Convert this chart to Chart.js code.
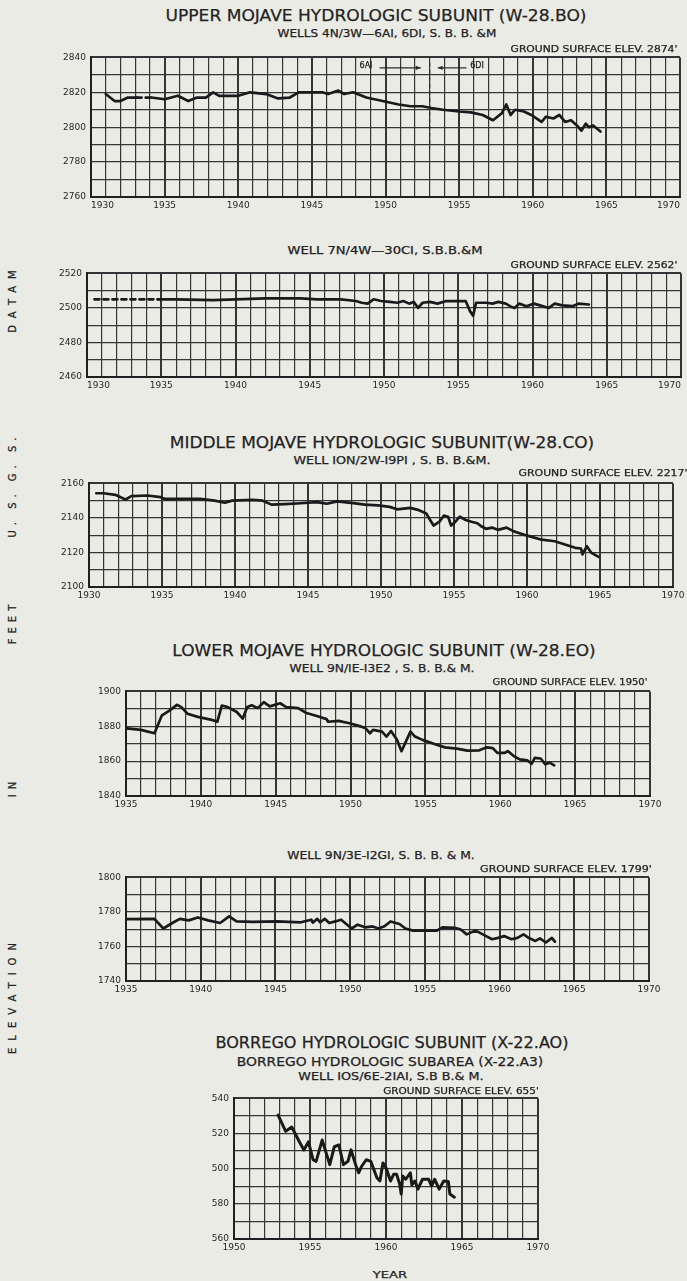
<!DOCTYPE html>
<html>
<head>
<meta charset="utf-8">
<script src="https://cdn.jsdelivr.net/npm/chart.js@4.4.1/dist/chart.umd.min.js"></script>
<style>
  body { margin: 0; width: 687px; height: 1281px; overflow: hidden; position: relative;
         background: #ebebe6; font-family: "DejaVu Sans", sans-serif; color: #232323; }
  canvas { position: absolute; }
  .t { position: absolute; white-space: nowrap; line-height: 1; -webkit-text-stroke: 0.25px #232323; }
</style>
</head>
<body>
<script>
// ---- data (year, water level in feet) ----
const c1Years = [1931.0, 1931.6, 1932.0, 1932.5, 1933.1, 1934.1, 1935.0, 1935.9, 1936.6, 1937.2, 1937.8, 1938.3, 1938.7, 1940.0, 1940.8, 1941.9, 1942.7, 1943.5, 1944.1, 1945.7, 1946.1, 1946.8, 1947.2, 1947.8, 1948.7, 1949.8, 1950.9, 1951.7, 1952.5, 1953.1, 1953.9, 1955.0, 1955.8, 1956.6, 1957.3, 1957.9, 1958.2, 1958.5, 1958.8, 1959.4, 1959.9, 1960.6, 1960.9, 1961.4, 1961.8, 1962.2, 1962.6, 1963.0, 1963.3, 1963.6, 1963.8, 1964.1, 1964.6];
const c1Levels = [2819, 2815, 2815, 2817, 2817, 2817, 2816, 2818, 2815, 2817, 2817, 2820, 2818, 2818, 2820, 2819, 2816.5, 2817, 2820, 2820, 2819, 2821, 2819, 2820, 2817, 2815, 2813, 2812, 2812, 2811, 2810, 2809, 2808.5, 2807, 2804, 2808, 2813, 2807, 2810, 2809, 2807, 2803, 2806, 2805, 2807, 2803, 2804, 2801, 2798, 2802, 2800, 2801, 2797.5];
const c1Dashed = [1933.1, 1934.1];
// well change 6A1 -> 6D1
const c1SplitYear = 1953.0;
const c1SplitLevels = [2837, 2788];
const c1MarkerLevel = 2834;
const c1LeftArrow = [1949.6, 1952.4];
const c1RightArrow = [1953.55, 1955.5];

const c2Years = [1930.5, 1934.8, 1936.0, 1938.5, 1940.0, 1942.0, 1944.4, 1945.5, 1947.1, 1948.1, 1948.5, 1948.9, 1949.3, 1949.8, 1950.4, 1950.9, 1951.3, 1951.7, 1952.0, 1952.3, 1952.6, 1953.1, 1953.6, 1954.2, 1955.0, 1955.5, 1955.8, 1956.0, 1956.2, 1956.9, 1957.3, 1957.7, 1958.2, 1958.6, 1958.8, 1959.1, 1959.6, 1960.1, 1960.5, 1961.1, 1961.5, 1962.0, 1962.7, 1963.1, 1963.8];
const c2Levels = [2505, 2505, 2505, 2504.5, 2505, 2505.5, 2505.5, 2505, 2505, 2504, 2503, 2502.5, 2505, 2504, 2503.5, 2503, 2504, 2502.5, 2503.5, 2500, 2503, 2503.5, 2502.5, 2504, 2504, 2504, 2498, 2495.5, 2503, 2503, 2502.5, 2503.5, 2502.5, 2500.5, 2500, 2502.5, 2501, 2502.5, 2501.5, 2500, 2502.5, 2501.5, 2501, 2502.5, 2502];
const c2Dashed = [1930.5, 1934.8];

const c3Years = [1930.5, 1931.0, 1931.8, 1932.5, 1932.9, 1934.0, 1934.9, 1935.2, 1936.3, 1937.6, 1938.6, 1939.3, 1939.8, 1941.2, 1941.9, 1942.5, 1943.4, 1944.5, 1945.6, 1946.3, 1947.0, 1948.1, 1948.9, 1949.8, 1950.6, 1951.1, 1952.0, 1952.6, 1953.1, 1953.3, 1953.6, 1954.0, 1954.3, 1954.6, 1954.8, 1955.1, 1955.4, 1955.8, 1956.2, 1956.6, 1956.9, 1957.2, 1957.6, 1958.0, 1958.6, 1959.1, 1959.7, 1960.2, 1961.0, 1961.9, 1962.6, 1963.3, 1963.7, 1963.8, 1964.1, 1964.4, 1964.6, 1964.9];
const c3Levels = [2154.3, 2154.3, 2153.4, 2150.7, 2152.6, 2153, 2152, 2151, 2151, 2151, 2150, 2148.8, 2150, 2150.5, 2150, 2147.7, 2148, 2148.5, 2149.2, 2148.2, 2149.6, 2148.6, 2147.7, 2147.3, 2146.4, 2145, 2145.8, 2144.5, 2142.6, 2139.7, 2135.6, 2137.8, 2141.3, 2140.7, 2135.6, 2137.8, 2140.7, 2138.8, 2137.8, 2136.9, 2135, 2133.7, 2134.4, 2133.1, 2134.4, 2132.2, 2130.6, 2129.3, 2127.4, 2126.5, 2124.6, 2122.7, 2122.3, 2118.9, 2123.6, 2119.9, 2118.9, 2117.4];

const c4Years = [1935.05, 1936.0, 1936.9, 1937.4, 1937.9, 1938.4, 1938.7, 1939.1, 1939.8, 1940.8, 1941.1, 1941.4, 1941.8, 1942.4, 1942.8, 1943.1, 1943.4, 1943.8, 1944.2, 1944.6, 1945.3, 1945.7, 1946.5, 1947.0, 1947.8, 1948.4, 1948.5, 1949.2, 1950.0, 1950.6, 1951.0, 1951.3, 1951.5, 1952.1, 1952.4, 1952.7, 1953.1, 1953.4, 1953.7, 1954.0, 1954.3, 1954.8, 1955.6, 1956.3, 1957.1, 1957.8, 1958.6, 1959.1, 1959.5, 1959.8, 1960.3, 1960.5, 1960.9, 1961.3, 1961.8, 1962.1, 1962.3, 1962.7, 1963.0, 1963.3, 1963.6];
const c4Levels = [1878.8, 1877.9, 1876, 1886.3, 1889, 1892.3, 1891, 1887.2, 1885.4, 1883.5, 1882.6, 1891.9, 1891, 1888.2, 1884.4, 1891, 1892, 1890.4, 1893.8, 1891.4, 1893.2, 1891, 1890.4, 1887.8, 1885.7, 1884.1, 1882.6, 1883.1, 1881.6, 1880.1, 1878.8, 1876, 1877.9, 1876.9, 1874.1, 1877.3, 1872.2, 1865.7, 1871.3, 1876.9, 1874.1, 1872.2, 1869.8, 1867.9, 1867.2, 1866, 1866.2, 1867.9, 1867.5, 1864.7, 1864.7, 1865.8, 1862.9, 1861, 1860.4, 1858.5, 1861.9, 1861.5, 1858.2, 1859.1, 1857.6];

const c5Years = [1935.0, 1936.9, 1937.5, 1938.1, 1938.6, 1939.2, 1939.8, 1940.5, 1941.3, 1941.9, 1942.4, 1943.5, 1945.1, 1946.7, 1947.4, 1947.5, 1947.8, 1948.0, 1948.3, 1948.6, 1949.0, 1949.4, 1949.8, 1950.1, 1950.5, 1951.0, 1951.5, 1951.9, 1952.3, 1952.7, 1953.3, 1953.7, 1954.2, 1955.8, 1956.2, 1957.0, 1957.4, 1957.8, 1958.4, 1959.1, 1959.5, 1959.9, 1960.3, 1960.8, 1961.2, 1961.6, 1962.0, 1962.4, 1962.7, 1963.1, 1963.5, 1963.7];
const c5Levels = [1775.8, 1776, 1770.4, 1773.6, 1776, 1775.1, 1776.8, 1775.1, 1773.6, 1777.4, 1774.5, 1774.2, 1774.5, 1774, 1775.5, 1773.8, 1776, 1774, 1776, 1773.6, 1774.5, 1775.5, 1772.6, 1770.4, 1772.6, 1771.1, 1771.6, 1770.4, 1771.7, 1774.5, 1773, 1770.4, 1769.2, 1769.2, 1771.1, 1770.8, 1769.8, 1767, 1769.2, 1766, 1764.2, 1765, 1766, 1764.2, 1765, 1767, 1764.7, 1763.2, 1764.7, 1762.3, 1765, 1762.8];

const c6Years = [1952.9, 1953.4, 1953.8, 1954.3, 1954.6, 1954.9, 1955.2, 1955.4, 1955.8, 1956.0, 1956.3, 1956.6, 1956.9, 1957.2, 1957.5, 1957.7, 1958.0, 1958.2, 1958.4, 1958.7, 1959.0, 1959.4, 1959.6, 1959.8, 1960.0, 1960.3, 1960.5, 1960.7, 1960.9, 1961.0, 1961.1, 1961.3, 1961.6, 1961.7, 1961.9, 1962.1, 1962.4, 1962.8, 1963.0, 1963.2, 1963.5, 1963.8, 1964.1, 1964.2, 1964.5];
const c6Levels = [530.5, 521.3, 523.7, 515.3, 510.7, 515.3, 505.1, 504.2, 516.3, 510.7, 502.3, 512.5, 513.5, 502.3, 504.2, 510.7, 502.3, 497.7, 501.4, 505.1, 504.2, 494.9, 493, 503.3, 500.5, 493, 496.8, 496.8, 491.2, 485.6, 495.8, 494, 497.7, 490.8, 493, 488.4, 494, 494, 490.3, 494, 488.4, 493, 492.7, 485.6, 483.8];
// printed y labels of the last panel (as they appear on the sheet)
const c6TickValues = [540, 520, 500, 480, 460];
const c6TickLabels = ['540', '520', '500', '580', '560'];

const INK = '#202020';
const GRID = '#353535';

function addText(txt, cx, cy, width, size, extra) {
  const d = document.createElement('div');
  d.className = 't';
  d.textContent = txt;
  d.style.fontSize = size + 'px';
  d.style.left = cx + 'px';
  d.style.top = cy + 'px';
  if (extra) Object.assign(d.style, extra);
  document.body.appendChild(d);
  const sx = width ? width / d.offsetWidth : 1;
  d.style.transform = 'translate(-50%,-50%) scale(' + sx + ',1)';
  return d;
}

function addVertical(txt, cx, cy, size, spacing) {
  const d = document.createElement('div');
  d.className = 't';
  d.textContent = txt;
  d.style.fontSize = size + 'px';
  d.style.letterSpacing = spacing + 'px';
  d.style.left = cx + 'px';
  d.style.top = cy + 'px';
  d.style.transform = 'translate(-50%,-50%) rotate(-90deg)';
  document.body.appendChild(d);
}

function hydrograph(box, xr, yr, years, levels, cfg) {
  cfg = cfg || {};
  const YW = 38, XH = 17, PT = 8, PR = 18;
  const w = Math.round(box.r - box.l + YW + PR), h = Math.round(box.b - box.t + PT + XH);
  const cv = document.createElement('canvas');
  cv.width = w; cv.height = h;
  cv.style.width = w + 'px'; cv.style.height = h + 'px';
  cv.style.left = (box.l - YW) + 'px';
  cv.style.top = (box.t - PT) + 'px';
  document.body.appendChild(cv);

  const dash = cfg.dashed;
  return new Chart(cv.getContext('2d'), {
    type: 'line',
    data: {
      datasets: [{
        data: years.map((x, i) => ({ x: x, y: levels[i] })),
        borderColor: '#1a1a1a',
        borderWidth: cfg.lineWidth || 2.7,
        pointRadius: 0,
        tension: 0,
        borderJoinStyle: 'round',
        borderCapStyle: 'round',
        segment: {
          borderDash: c => (dash && c.p0.parsed.x >= dash[0] && c.p1.parsed.x <= dash[1]) ? [5, 4] : undefined
        }
      }]
    },
    options: {
      responsive: false,
      animation: false,
      devicePixelRatio: 1,
      layout: { padding: { left: 0, right: PR, top: PT, bottom: 0 } },
      plugins: { legend: { display: false }, tooltip: { enabled: false } },
      scales: {
        x: {
          type: 'linear', min: xr[0], max: xr[1],
          afterFit: s => { s.height = XH; },
          grid: {
            color: GRID,
            lineWidth: c => (c.tick && c.tick.value % 5 === 0) ? 2 : 1.2,
            drawTicks: false
          },
          border: { display: true, color: INK, width: 2 },
          ticks: {
            stepSize: 1, autoSkip: false, maxRotation: 0, padding: 3,
            align: cfg.xAlign || 'center',
            color: '#262626', font: { family: 'DejaVu Sans', size: 9 },
            callback: v => (v % 5 === 0 ? String(v) : '')
          }
        },
        y: {
          min: yr[0], max: yr[1],
          afterFit: s => { s.width = YW; },
          grid: {
            color: GRID,
            lineWidth: c => (c.tick && (c.tick.value === yr[0] || c.tick.value === yr[1])) ? 2 : 1.25,
            drawTicks: false
          },
          border: { display: true, color: INK, width: 2 },
          ticks: {
            stepSize: 10, autoSkip: false, padding: 5,
            color: '#262626', font: { family: 'DejaVu Sans', size: 9 },
            callback: cfg.yLabel || (v => (v % 20 === 0 ? String(v) : ''))
          }
        }
      }
    },
    plugins: cfg.plugins || []
  });
}

// well-change marker on the first panel
const wellChange = {
  id: 'wellChange',
  afterDatasetsDraw(chart) {
    const { ctx, scales: { x, y } } = chart;
    ctx.save();
    ctx.strokeStyle = '#2a2a2a';
    ctx.fillStyle = '#2a2a2a';
    ctx.lineWidth = 1.2;
    ctx.setLineDash([4, 3]);
    const sx = x.getPixelForValue(c1SplitYear);
    ctx.beginPath();
    ctx.moveTo(sx, y.getPixelForValue(c1SplitLevels[0]));
    ctx.lineTo(sx, y.getPixelForValue(c1SplitLevels[1]));
    ctx.stroke();
    ctx.setLineDash([]);
    const my = y.getPixelForValue(c1MarkerLevel);
    [c1LeftArrow, c1RightArrow].forEach((seg, k) => {
      const a = x.getPixelForValue(seg[0]), b = x.getPixelForValue(seg[1]);
      ctx.beginPath(); ctx.moveTo(a, my); ctx.lineTo(b, my); ctx.stroke();
      const tip = k === 0 ? b : a, dir = k === 0 ? 1 : -1;
      ctx.beginPath();
      ctx.moveTo(tip, my);
      ctx.lineTo(tip - dir * 5, my - 2.2);
      ctx.lineTo(tip - dir * 5, my + 2.2);
      ctx.closePath(); ctx.fill();
    });
    ctx.restore();
  }
};

// ---- panels ----
hydrograph({ l: 91, r: 680, t: 55, b: 197 }, [1930, 1970], [2760, 2840], c1Years, c1Levels,
  { dashed: c1Dashed, plugins: [wellChange], xAlign: 'inner' });
hydrograph({ l: 87, r: 681, t: 271, b: 377 }, [1930, 1970], [2460, 2520], c2Years, c2Levels,
  { dashed: c2Dashed, xAlign: 'inner' });
hydrograph({ l: 89, r: 673, t: 481, b: 587 }, [1930, 1970], [2100, 2160], c3Years, c3Levels);
hydrograph({ l: 125.5, r: 649, t: 689, b: 796 }, [1935, 1970], [1840, 1900], c4Years, c4Levels);
hydrograph({ l: 126, r: 649, t: 875, b: 981 }, [1935, 1970], [1740, 1800], c5Years, c5Levels);
hydrograph({ l: 234, r: 538, t: 1096, b: 1239 }, [1950, 1970], [460, 540], c6Years, c6Levels,
  { lineWidth: 3, yLabel: v => { const i = c6TickValues.indexOf(v); return i >= 0 ? c6TickLabels[i] : ''; } });

// ---- lettering ----
addText('UPPER MOJAVE HYDROLOGIC SUBUNIT (W-28.BO)', 375.5, 15.5, 421, 16.5);
addText('WELLS 4N/3W\u20146AI, 6DI, S. B. B. &M', 386.5, 34, 219, 10);
addText("GROUND SURFACE ELEV. 2874'", 593.5, 49, 167, 8.5);
addText('6AI', 366, 65.7, 0, 8);
addText('6DI', 477, 65.7, 0, 8);

addText('WELL 7N/4W\u201430CI, S.B.B.&M', 384.5, 251, 195, 10);
addText("GROUND SURFACE  ELEV. 2562'", 593.5, 265, 167, 8.5);

addText('MIDDLE MOJAVE HYDROLOGIC SUBUNIT(W-28.CO)', 382, 443, 424, 16.5);
addText('WELL ION/2W-I9PI , S. B. B.&M.', 391.5, 461, 197, 10);
addText("GROUND SURFACE ELEV. 2217'", 602.5, 473, 169, 8.5);

addText('LOWER  MOJAVE HYDROLOGIC SUBUNIT (W-28.EO)', 384, 651, 423, 16.5);
addText('WELL 9N/IE-I3E2 , S. B. B.& M.', 381.5, 669, 185, 10);
addText("GROUND SURFACE ELEV. 1950'", 569.5, 682, 155, 8.5);

addText('WELL 9N/3E-I2GI, S. B. B. & M.', 380.5, 856, 187, 10);
addText("GROUND SURFACE ELEV. 1799'", 566, 869, 172, 8.5);

addText('BORREGO HYDROLOGIC SUBUNIT (X-22.AO)', 391.5, 1043.5, 353, 15.5);
addText('BORREGO HYDROLOGIC SUBAREA (X-22.A3)', 390, 1062, 306, 12);
addText('WELL IOS/6E-2IAI, S.B B.& M.', 390.5, 1077, 185, 10);
addText("GROUND SURFACE ELEV. 655'", 460.5, 1091, 155, 8.5);
addText('YEAR', 389.5, 1275, 35, 9);

addVertical('DATAM', 13, 298, 10, 7);
addVertical('U. S. G. S.', 13, 485, 10, 5);
addVertical('FEET', 13, 622, 10, 5);
addVertical('IN', 13, 787, 10, 5);
addVertical('ELEVATION', 13, 995, 10, 7);
</script>
</body>
</html>
